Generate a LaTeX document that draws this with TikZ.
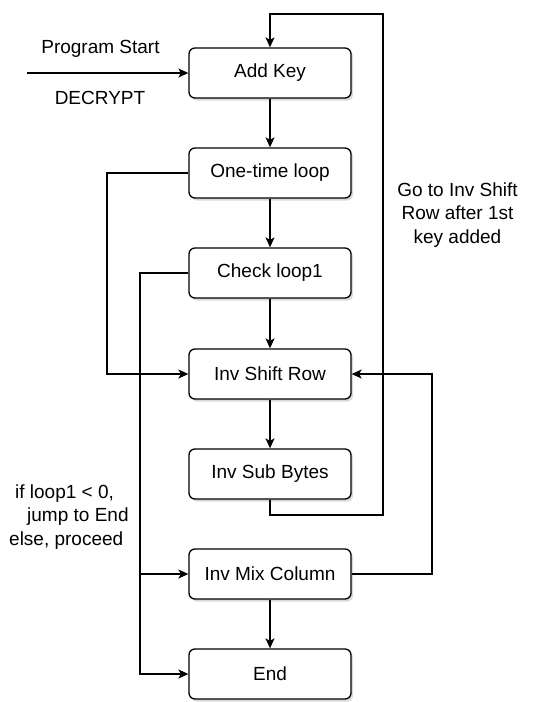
\documentclass[tikz,border=0pt]{standalone}
\usepackage{fontspec}
\setmainfont{Liberation Sans}
\usetikzlibrary{arrows.meta,shadows}
\begin{document}
\begin{tikzpicture}[x=1pt,y=-1pt,
  every node/.style={font=\fontsize{19}{23}\selectfont},
  proc/.style={draw=black,line width=1.3pt,rounded corners=6pt,fill=white,
    minimum width=162pt,minimum height=50pt,inner sep=0pt,
    drop shadow={shadow xshift=2pt,shadow yshift=-2.5pt,opacity=0.25,fill=black!60}},
  conn/.style={line width=1.3pt,-{Stealth[length=10pt,width=9pt,inset=2.5pt]}},
  plain/.style={line width=1.3pt},
  lbl/.style={inner sep=0pt,align=center}]
\useasboundingbox (0,0) rectangle (540,702);
\node[proc] (addkey) at (270,73) {Add Key};
\node[proc] (onetime) at (270,173) {One-time loop};
\node[proc] (check) at (270,273) {Check loop1};
\node[proc] (shift) at (270,374) {Inv Shift Row};
\node[proc] (sub) at (270,474) {Inv Sub Bytes};
\node[proc] (mix) at (270,574) {Inv Mix Column};
\node[proc] (end) at (270,674) {End};

\coordinate (start) at (27,73);
\coordinate (loopR) at (383,515);
\coordinate (loopT) at (383,14);
\coordinate (oL) at (107,374);
\coordinate (cL) at (140,674);
\coordinate (cM) at (140,574);
\coordinate (mR) at (432,374);

\node[lbl] (pstart) at (100.5,49) {Program Start};
\node[lbl] (decrypt) at (100,98) {DECRYPT};
\node[lbl,font=\fontsize{19}{23.5}\selectfont] (goto) at (457.5,215) {Go to Inv Shift\\Row after 1st\\key added};
\node[lbl,align=left,anchor=west,font=\fontsize{19}{23.5}\selectfont] (cond) at (9,517) {\hspace*{6pt}if loop1 < 0,\\\hspace*{18pt}jump to End\\else, proceed};

\draw[conn] (start) -- (addkey.west);
\draw[conn] (addkey) -- (onetime);
\draw[conn] (onetime) -- (check);
\draw[conn] (check) -- (shift);
\draw[conn] (shift) -- (sub);
\draw[conn] (mix) -- (end);
\draw[conn,rounded corners=0pt] (sub.south) |- (loopR) -- (loopT) -| (addkey.north);
\draw[conn] (onetime.west) -| (oL) -- (shift.west);
\draw[conn] (check.west) -| (cL) -- (end.west);
\draw[conn] (cM) -- (mix.west);
\draw[conn] (mix.east) -| (mR) -- (shift.east);
\end{tikzpicture}
\end{document}
